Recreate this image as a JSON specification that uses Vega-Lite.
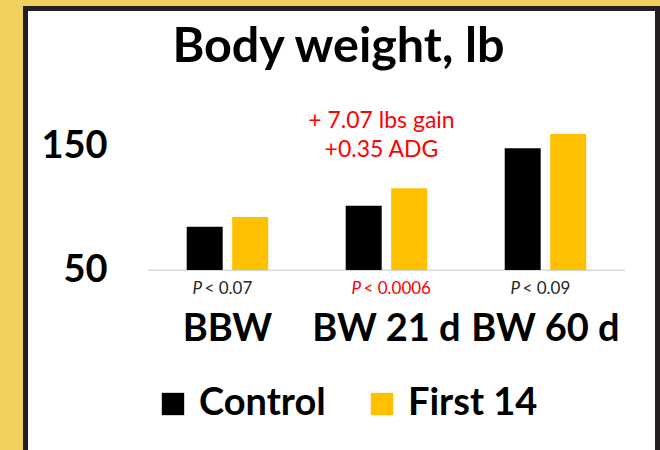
{
  "$schema": "https://vega.github.io/schema/vega-lite/v6.json",
  "width": 632,
  "height": 441.5,
  "autosize": {"type": "none"},
  "padding": {"left": 25.5, "top": 8.5, "right": 2.5, "bottom": 0},
  "background": "#F1D15D",
  "config": {
    "font": "Lato",
    "view": {"fill": "white", "stroke": "#231F20", "strokeWidth": 5, "strokeDash": [1073.5, 632, 441.5]},
    "axis": {"grid": false, "ticks": false, "tickSize": 0, "domain": false, "labelPadding": 0, "labelFont": "Lato", "labelFontWeight": "bold", "labelColor": "#000000", "labelFontSize": 38, "labelOverlap": false}
  },
  "title": {"text": "Body weight, lb", "fontSize": 48.5, "fontWeight": "bold", "color": "#000000", "anchor": "middle", "frame": "group", "baseline": "alphabetic", "offset": -102, "dx": -3, "font": "Lato"},
  "datasets": {
    "bars": [
      {"cat": "BBW", "group": "Control", "bw": 85.1},
      {"cat": "BBW", "group": "First 14", "bw": 92.9},
      {"cat": "BW 21 d", "group": "Control", "bw": 102.1},
      {"cat": "BW 21 d", "group": "First 14", "bw": 116.1},
      {"cat": "BW 60 d", "group": "Control", "bw": 148.5},
      {"cat": "BW 60 d", "group": "First 14", "bw": 160.1}
    ],
    "pvals": [
      {"cat": "BBW", "p": "< 0.07", "sig": false},
      {"cat": "BW 21 d", "p": "< 0.0006", "sig": true},
      {"cat": "BW 60 d", "p": "< 0.09", "sig": false}
    ],
    "note": [
      {"cat": "BW 21 d", "note": "+ 7.07 lbs gain\n+0.35 ADG"}
    ]
  },
  "layer": [
    {
      "data": {"name": "pvals"},
      "mark": {"type": "bar", "color": "#D9D9D9"},
      "encoding": {
        "x": {"field": "cat", "type": "nominal", "sort": ["BBW", "BW 21 d", "BW 60 d"], "scale": {"paddingInner": 0, "paddingOuter": 0.4874, "align": 0.79}, "axis": {"title": null, "labelAngle": 0, "labelBaseline": "alphabetic", "offset": -110}},
        "y": {"datum": 49.3, "type": "quantitative", "scale": {"domain": [-95.7, 261.7], "nice": false, "zero": false}, "axis": {"title": null, "values": [50, 150], "offset": -81.5, "labelBaseline": "middle", "labelAlign": "right"}},
        "y2": {"datum": 50.5}
      }
    },
    {
      "data": {"name": "bars"},
      "mark": {"type": "bar"},
      "encoding": {
        "x": {"field": "cat", "type": "nominal", "sort": ["BBW", "BW 21 d", "BW 60 d"]},
        "xOffset": {"field": "group", "type": "nominal", "scale": {"domain": ["Control", "First 14"], "paddingInner": 0.209, "paddingOuter": 0.852}},
        "y": {"field": "bw", "type": "quantitative"},
        "y2": {"datum": 50},
        "color": {"field": "group", "type": "nominal", "scale": {"domain": ["Control", "First 14"], "range": ["#000000", "#FFC000"]}, "legend": {"orient": "none", "legendX": 128.5, "legendY": 376.5, "direction": "horizontal", "title": null, "symbolType": "square", "symbolSize": 500, "symbolStrokeWidth": 0, "symbolOpacity": 1, "labelFont": "Lato", "labelFontSize": 38, "labelFontWeight": "bold", "labelColor": "#000000", "labelOffset": 7, "columnPadding": 37, "padding": 0}}
      }
    },
    {
      "data": {"name": "pvals"},
      "mark": {"type": "text", "align": "left", "baseline": "alphabetic", "dx": -35, "fontSize": 17, "fontStyle": "italic", "font": "Lato"},
      "encoding": {
        "x": {"field": "cat", "type": "nominal", "sort": ["BBW", "BW 21 d", "BW 60 d"]},
        "y": {"datum": 30.57, "type": "quantitative"},
        "text": {"value": "P"},
        "color": {"condition": {"test": "datum.sig", "value": "#FF0000"}, "value": "#262626"}
      }
    },
    {
      "data": {"name": "pvals"},
      "mark": {"type": "text", "align": "left", "baseline": "alphabetic", "dx": -23, "fontSize": 17, "font": "Lato"},
      "encoding": {
        "x": {"field": "cat", "type": "nominal", "sort": ["BBW", "BW 21 d", "BW 60 d"]},
        "y": {"datum": 30.57, "type": "quantitative"},
        "text": {"field": "p"},
        "color": {"condition": {"test": "datum.sig", "value": "#FF0000"}, "value": "#262626"}
      }
    },
    {
      "data": {"name": "note"},
      "mark": {"type": "text", "align": "center", "baseline": "alphabetic", "dx": -5, "fontSize": 23, "font": "Lato", "color": "#FF0000", "lineBreak": "\n", "lineHeight": 29},
      "encoding": {
        "x": {"field": "cat", "type": "nominal", "sort": ["BBW", "BW 21 d", "BW 60 d"]},
        "y": {"datum": 164.6, "type": "quantitative"},
        "text": {"field": "note"}
      }
    }
  ]
}
